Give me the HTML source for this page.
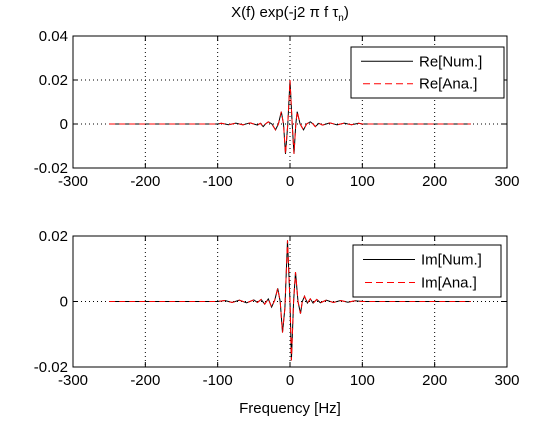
<!DOCTYPE html>
<html><head><meta charset="utf-8"><style>
body{margin:0;background:#fff}
svg text{font-family:"Liberation Sans",sans-serif;font-size:15px;fill:#000}
</style></head><body>
<svg id="c" width="560" height="420" xmlns="http://www.w3.org/2000/svg">
<rect width="560" height="420" fill="#fff"/>
</svg>
<script>
const reFreq=[-250,-100,-95,-90,-85,-80,-75,-70,-65,-60,-55,-50,-45,-41,-37,-34,-30,-25,-20,-16,-12,-9,-6.2,-3,0,3,5.5,8,10,14,18.6,23,28,32,35,40,45,50,55,60,65,70,75,80,85,90,95,100,250];
const reVal=[0,0,0.3,0,-0.3,0,0.4,0,-0.4,0.1,0.5,0,-0.5,0.3,-1.2,0,1.0,0,-2.7,0,5.6,0,-13.6,0,20,0,-13.6,0,5.6,0,-2.7,0,1.0,0,-1.2,0.3,-0.5,0,0.5,0.1,-0.4,0,0.4,0,-0.3,0,0.3,0,0];
const imFreq=[-250,-100,-90,-80,-70,-60,-50,-45,-40,-35,-30,-25.5,-21,-17,-13.5,-10.3,-7,-3.4,0,2,5,7.6,11,14.5,17,20,24,28,32,37,42,50,60,70,80,90,100,250];
const imVal=[0,0,0.3,-0.3,0.4,-0.4,0.5,-0.3,0.6,-0.8,0.8,-1.7,0.5,4,0,-9.5,-2,18.7,0,-18,0,9,0,-3.7,0,1.6,-0.5,0.8,-0.5,0.6,-0.4,0.4,-0.3,0.3,-0.2,0.2,0,0];
const xTicks=[-300,-200,-100,0,100,200,300];
const topYTicks=[0.04,0.02,0,-0.02];
const botYTicks=[0.02,0,-0.02];

const svg=document.getElementById('c');
const NS='http://www.w3.org/2000/svg';
function mk(tag,attrs,parent){const e=document.createElementNS(NS,tag);for(const k in attrs)e.setAttribute(k,attrs[k]);(parent||svg).appendChild(e);return e;}
const X0=73,X1=507;
function xs(f){return X0+(f+300)/600*(X1-X0);}

function panel(name,top,bot,ymax,ymin,yTicks,freq,val,labels,leg){
  const g=mk('g',{});
  
  
  const ys=v=>top+(ymax-v)/(ymax-ymin)*(bot-top);
  xTicks.forEach(t=>{
    if(t>-300&&t<300){const l=mk('line',{x1:xs(t),x2:xs(t),y1:top,y2:bot,stroke:'#000','stroke-dasharray':'1,3','stroke-width':1},g);
    }
    mk('line',{x1:xs(t),x2:xs(t),y1:bot,y2:bot-5,stroke:'#000'},g);
    mk('line',{x1:xs(t),x2:xs(t),y1:top,y2:top+5,stroke:'#000'},g);
    const tx=mk('text',{x:xs(t),y:bot+18,'text-anchor':'middle'},g);tx.textContent=t;
    
  });
  yTicks.forEach(t=>{
    if(t<ymax&&t>ymin){const l=mk('line',{x1:X0,x2:X1,y1:ys(t),y2:ys(t),stroke:'#000','stroke-dasharray':'1,3'},g);
    }
    mk('line',{x1:X0,x2:X0+5,y1:ys(t),y2:ys(t),stroke:'#000'},g);
    mk('line',{x1:X1,x2:X1-5,y1:ys(t),y2:ys(t),stroke:'#000'},g);
    const tx=mk('text',{x:X0-5,y:ys(t)+5,'text-anchor':'end'},g);tx.textContent=t;
    
  });
  const pts=freq.map((f,i)=>xs(f).toFixed(1)+','+ys(val[i]*0.001).toFixed(1)).join(' ');
  const p1=mk('polyline',{points:pts,fill:'none',stroke:'#000','stroke-width':1},g);
  
  
  const p2=mk('polyline',{points:pts,fill:'none',stroke:'#f00','stroke-width':1,'stroke-dasharray':'6,4'},g);
  
  
  const ax=mk('rect',{x:X0,y:top,width:X1-X0,height:bot-top,fill:'none',stroke:'#000'},g);
  
  const lg=mk('g',{},g);
  
  mk('rect',{x:leg.x,y:leg.y,width:leg.w,height:leg.h,fill:'#fff',stroke:'#000'},lg);
  mk('line',{x1:leg.x+10,x2:leg.x+62,y1:leg.y+leg.h*0.28,y2:leg.y+leg.h*0.28,stroke:'#000'},lg);
  mk('line',{x1:leg.x+12,x2:leg.x+62,y1:leg.y+leg.h*0.72,y2:leg.y+leg.h*0.72,stroke:'#f00','stroke-dasharray':'7,4'},lg);
  labels.forEach((s,i)=>{const t=mk('text',{x:leg.x+68,y:leg.y+leg.h*(i?0.72:0.28)+5},lg);t.textContent=s;
    });
}
panel('top-panel',36,168,0.04,-0.02,topYTicks,reFreq,reVal,['Re[Num.]','Re[Ana.]'],{x:351,y:47,w:153,h:51});
panel('bottom-panel',236,367,0.02,-0.02,botYTicks,imFreq,imVal,['Im[Num.]','Im[Ana.]'],{x:353,y:245,w:148,h:52});

const ti=mk('text',{x:290,y:17,'text-anchor':'middle'});

ti.innerHTML='X(f) exp(-j2 π f τ<tspan dy="4" font-size="10">n</tspan><tspan dy="-4">)</tspan>';
const xl=mk('text',{x:290,y:413,'text-anchor':'middle'});

xl.textContent='Frequency [Hz]';
</script>
</body></html>
